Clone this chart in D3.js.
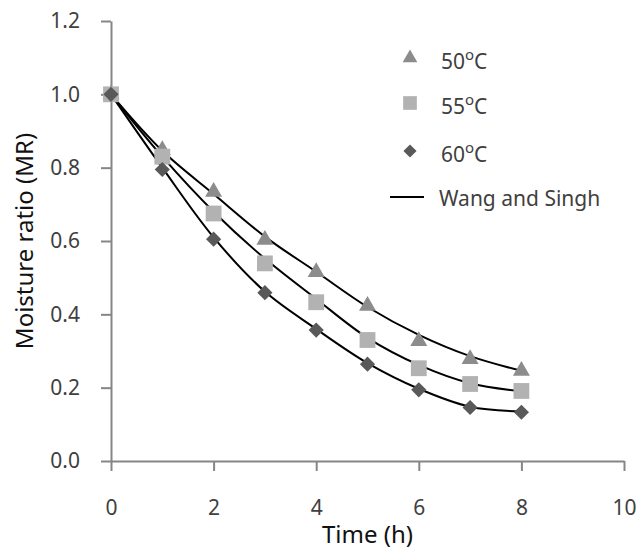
<!DOCTYPE html>
<html>
<head>
<meta charset="utf-8">
<script src="https://cdn.jsdelivr.net/npm/d3@7"></script>
<style>
  body { margin: 0; background: #fff; }
  svg { display: block; font-family: 'Noto Sans', sans-serif; }
  .axis path, .axis line { stroke: #868686; stroke-width: 2; }
  .axis text { fill: #404040; font-size: 21px; font-family: 'Noto Sans', sans-serif; }
  .axis-title { fill: #111; font-size: 24px; }
  .legend text { fill: #404040; font-size: 21px; }
</style>
</head>
<body>
<svg id="chart" width="639" height="552"></svg>
<script>
// time points (h)
const times = [0, 1, 2, 3, 4, 5, 6, 7, 8];

// measured moisture ratio
const mr50 = [1.0, 0.848, 0.734, 0.603, 0.515, 0.423, 0.327, 0.278, 0.246];
const mr55 = [1.0, 0.830, 0.675, 0.539, 0.433, 0.330, 0.253, 0.210, 0.191];
const mr60 = [1.0, 0.795, 0.605, 0.459, 0.357, 0.264, 0.194, 0.146, 0.133];

// Wang and Singh model predictions
const ws50 = [1.0, 0.846, 0.728, 0.612, 0.516, 0.420, 0.344, 0.286, 0.246];
const ws55 = [1.0, 0.830, 0.680, 0.552, 0.442, 0.336, 0.262, 0.212, 0.190];
const ws60 = [1.0, 0.800, 0.610, 0.462, 0.360, 0.267, 0.197, 0.148, 0.135];

const xTicks = [0, 2, 4, 6, 8, 10];
const yTicks = [0, 0.2, 0.4, 0.6, 0.8, 1.0, 1.2];

const seriesNames = ['50', '55', '60'];
const modelName = 'Wang and Singh';

const svg = d3.select('#chart');
const margin = { top: 21, right: 15, bottom: 91, left: 111 };
const width = +svg.attr('width');
const height = +svg.attr('height');
const innerWidth = width - margin.left - margin.right;
const innerHeight = height - margin.top - margin.bottom;

const chart = svg.append('g')
  .attr('transform', `translate(${margin.left},${margin.top})`);

const xScale = d3.scaleLinear().domain([0, 10]).range([0, innerWidth]);
const yScale = d3.scaleLinear().domain([0, 1.2]).range([innerHeight, 0]);

// axes
chart.append('g')
  .attr('class', 'axis')
  .attr('transform', `translate(0,${innerHeight})`)
  .call(d3.axisBottom(xScale).tickValues(xTicks).tickSize(10).tickSizeOuter(0).tickPadding(29));

chart.append('g')
  .attr('class', 'axis')
  .call(d3.axisLeft(yScale).tickValues(yTicks).tickFormat(d3.format('.1f'))
    .tickSize(10).tickSizeOuter(0).tickPadding(21));

// axis titles
chart.append('text')
  .attr('class', 'axis-title')
  .attr('x', innerWidth / 2)
  .attr('y', innerHeight + 82)
  .attr('text-anchor', 'middle')
  .text('Time (h)');

chart.append('text')
  .attr('class', 'axis-title')
  .attr('transform', `translate(${-78},${yScale(0.6)}) rotate(-90)`)
  .attr('text-anchor', 'middle')
  .text('Moisture ratio (MR)');

// model lines
const line = d3.line()
  .x((d, i) => xScale(times[i]))
  .y(d => yScale(d))
  .curve(d3.curveCatmullRom.alpha(0.5));

[ws50, ws55, ws60].forEach(vals => {
  chart.append('path')
    .attr('d', line(vals))
    .attr('fill', 'none')
    .attr('stroke', '#000')
    .attr('stroke-width', 2);
});

// markers
const markerStyles = [
  { type: d3.symbolTriangle, size: 125, color: '#8c8c8c', rot: 0, data: mr50 },
  { type: d3.symbolSquare, size: 250, color: '#b2b2b2', rot: 0, data: mr55 },
  { type: d3.symbolSquare, size: 115, color: '#595959', rot: 45, data: mr60 }
];

markerStyles.forEach(m => {
  chart.append('g').selectAll('path')
    .data(m.data)
    .join('path')
    .attr('transform', (d, i) => `translate(${xScale(times[i])},${yScale(d)}) rotate(${m.rot})`)
    .attr('d', d3.symbol().type(m.type).size(m.size))
    .attr('fill', m.color);
});

// legend
const legend = svg.append('g').attr('class', 'legend');
const legendY = [58, 103, 151];
markerStyles.forEach((m, i) => {
  legend.append('path')
    .attr('transform', `translate(410,${legendY[i]}) rotate(${m.rot})`)
    .attr('d', d3.symbol().type(m.type).size(m.size * 0.75))
    .attr('fill', m.color);
  const t = legend.append('text')
    .attr('x', 441)
    .attr('y', legendY[i] + 11)
    .attr('font-size', 22);
  t.append('tspan').text(seriesNames[i]);
  t.append('tspan').attr('font-size', 15).attr('dy', -9).text('o');
  t.append('tspan').attr('dy', 9).text('C');
});

legend.append('line')
  .attr('x1', 390).attr('x2', 424)
  .attr('y1', 197).attr('y2', 197)
  .attr('stroke', '#000')
  .attr('stroke-width', 2);
legend.append('text')
  .attr('x', 439)
  .attr('y', 206)
  .text(modelName);
</script>
</body>
</html>
